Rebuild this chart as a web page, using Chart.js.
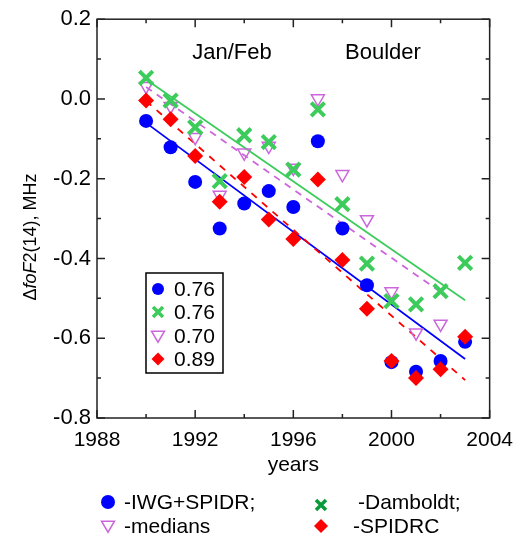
<!DOCTYPE html>
<html>
<head>
<meta charset="utf-8">
<script src="https://cdn.jsdelivr.net/npm/chart.js@4/dist/chart.umd.min.js"></script>
<style>html,body{margin:0;padding:0;background:#fff}</style>
</head>
<body>
<canvas id="c" width="523" height="538"></canvas>
<script>
// ===== data =====
const years = [1990, 1991, 1992, 1993, 1994, 1995, 1996, 1997, 1998, 1999, 2000, 2001, 2002, 2003];
const iwgSpidr = [-0.055, -0.121, -0.208, -0.325, -0.262, -0.231, -0.271, -0.106, -0.325, -0.467, -0.660, -0.684, -0.657, -0.609];
const damboldt = [0.053, -0.004, -0.071, -0.206, -0.091, -0.108, -0.177, -0.026, -0.264, -0.413, -0.507, -0.515, -0.482, -0.411];
const medians  = [0.032, -0.018, -0.096, -0.241, -0.135, -0.118, -0.173, 0.001, -0.189, -0.302, -0.483, -0.586, -0.564, null];
const spidrc   = [-0.004, -0.051, -0.143, -0.258, -0.196, -0.302, -0.351, -0.202, -0.404, -0.526, -0.657, -0.700, -0.678, -0.596];

// linear fits, start/end values
const trendX = [1990, 2003];
const trendIwg = [-0.060, -0.652];
const trendDamboldt = [0.049, -0.505];
const trendMedX = [1990, 2002];
const trendMed = [0.030, -0.484];
const trendSpidrc = [-0.005, -0.705];

const corrLabels = ['0.76', '0.76', '0.70', '0.89'];
const seriesNames = ['-IWG+SPIDR;', '-Damboldt;', '-medians', '-SPIDRC'];

const FONT = '"Liberation Sans", Arial, sans-serif';
const BLUE = '#0000ff', GREEN = '#3dcc5c', DKGREEN = '#0b9a3a', PURPLE = '#cc66dd', RED = '#ff0000';

const pts = (xs, ys) => xs.map((x, i) => ({ x, y: ys[i] })).filter(p => p.y != null);

// small marker painter for the two legends
function marker(ctx, kind, x, y, s, color) {
    ctx.save();
    ctx.fillStyle = color; ctx.strokeStyle = color;
    ctx.beginPath();
    if (kind === 'circle') {
        ctx.arc(x, y, s, 0, Math.PI * 2); ctx.fill();
    } else if (kind === 'cross') {
        ctx.lineWidth = 3.5;
        ctx.moveTo(x - s, y - s); ctx.lineTo(x + s, y + s);
        ctx.moveTo(x + s, y - s); ctx.lineTo(x - s, y + s);
        ctx.stroke();
    } else if (kind === 'tri') {
        ctx.lineWidth = 1.5;
        ctx.moveTo(x - s, y - s * 0.75); ctx.lineTo(x + s, y - s * 0.75); ctx.lineTo(x, y + s * 0.95);
        ctx.closePath(); ctx.stroke();
    } else {
        ctx.moveTo(x, y - s); ctx.lineTo(x + s, y); ctx.lineTo(x, y + s); ctx.lineTo(x - s, y);
        ctx.closePath(); ctx.fill();
    }
    ctx.restore();
}

const frame = {
    id: 'frame',
    beforeDatasetsDraw(chart) {
        const { ctx, chartArea: a, scales: { x, y } } = chart;
        ctx.save();
        ctx.strokeStyle = '#222'; ctx.lineWidth = 1.5;
        ctx.strokeRect(a.left, a.top, a.right - a.left, a.bottom - a.top);
        ctx.beginPath();
        for (let yr = 1988; yr <= 2004; yr += 2) {
            const px = x.getPixelForValue(yr), len = (yr - 1988) % 4 ? 4 : 8;
            ctx.moveTo(px, a.top); ctx.lineTo(px, a.top + len);
            ctx.moveTo(px, a.bottom); ctx.lineTo(px, a.bottom - len);
        }
        for (let i = -8; i <= 2; i++) {
            const py = y.getPixelForValue(i / 10), len = i % 2 ? 4 : 8;
            ctx.moveTo(a.left, py); ctx.lineTo(a.left + len, py);
            ctx.moveTo(a.right, py); ctx.lineTo(a.right - len, py);
        }
        ctx.stroke();
        ctx.restore();
    },
    afterDraw(chart) {
        const { ctx, chartArea: a } = chart;
        ctx.save();
        ctx.fillStyle = '#000';
        ctx.textBaseline = 'middle';

        // annotations
        ctx.font = '22px ' + FONT;
        ctx.textAlign = 'center';
        ctx.fillText('Jan/Feb', 232, 53);
        ctx.fillText('Boulder', 383, 53);

        // x title
        ctx.font = '21px ' + FONT;
        ctx.fillText('years', (a.left + a.right) / 2, 465);

        // y title with italic foF
        ctx.save();
        ctx.translate(31, 237);
        ctx.rotate(-Math.PI / 2);
        const parts = [['\u0394', '18px ' + FONT], ['foF', 'italic 18px ' + FONT], ['2(14), MHz', '18px ' + FONT]];
        let w = 0;
        parts.forEach(p => { ctx.font = p[1]; w += ctx.measureText(p[0]).width; });
        let cx = -w / 2;
        ctx.textAlign = 'left';
        parts.forEach(p => { ctx.font = p[1]; ctx.fillText(p[0], cx, 0); cx += ctx.measureText(p[0]).width; });
        ctx.restore();

        // inset legend with correlation coefficients
        ctx.strokeStyle = '#000'; ctx.lineWidth = 1.5;
        ctx.strokeRect(146, 273, 77, 100);
        const kinds = ['circle', 'cross', 'tri', 'diamond'];
        const cols = [BLUE, GREEN, PURPLE, RED];
        const rowsY = [289, 312, 336, 359];
        ctx.font = '21px ' + FONT;
        ctx.textAlign = 'left';
        corrLabels.forEach((t, i) => {
            marker(ctx, kinds[i], 158, rowsY[i], kinds[i] === 'circle' ? 6 : kinds[i] === 'cross' ? 5 : 6.5, cols[i]);
            ctx.fillText(t, 174, rowsY[i] + 1);
        });

        // bottom legend
        marker(ctx, 'circle', 108, 502, 7, BLUE);
        ctx.fillText(seriesNames[0], 124, 503);
        marker(ctx, 'cross', 321, 505, 5, DKGREEN);
        ctx.fillText(seriesNames[1], 358, 503);
        marker(ctx, 'tri', 108, 526, 6.5, PURPLE);
        ctx.fillText(seriesNames[2], 124, 527);
        marker(ctx, 'diamond', 321, 526, 7, RED);
        ctx.fillText(seriesNames[3], 353, 527);
        ctx.restore();
    }
};

const lineDs = (xs, ys, color, dash) => ({
    type: 'line', data: pts(xs, ys), borderColor: color, borderWidth: 1.8,
    borderDash: dash || [], pointRadius: 0, showLine: true, fill: false
});

new Chart(document.getElementById('c'), {
    type: 'scatter',
    data: {
        datasets: [
            { data: pts(years, spidrc), pointStyle: 'rectRot', pointRadius: 8, backgroundColor: RED, borderColor: RED, borderWidth: 0 },
            { data: pts(years, damboldt), pointStyle: 'crossRot', pointRadius: 9.5, borderColor: GREEN, borderWidth: 4 },
            { data: pts(years, medians), pointStyle: 'triangle', rotation: 180, pointRadius: 7.5, backgroundColor: 'rgba(0,0,0,0)', borderColor: PURPLE, borderWidth: 1.5 },
            { data: pts(years, iwgSpidr), pointStyle: 'circle', pointRadius: 7, backgroundColor: BLUE, borderColor: BLUE, borderWidth: 0 },
            lineDs(trendX, trendSpidrc, RED, [7, 7]),
            lineDs(trendMedX, trendMed, PURPLE, [7, 6]),
            lineDs(trendX, trendDamboldt, GREEN),
            lineDs(trendX, trendIwg, BLUE)
        ]
    },
    options: {
        responsive: false,
        animation: false,
        devicePixelRatio: 1,
        layout: { padding: { left: 0, right: 27, top: 18, bottom: 0 } },
        plugins: { legend: { display: false }, tooltip: { enabled: false } },
        scales: {
            x: {
                type: 'linear', min: 1988, max: 2004,
                grid: { display: false, drawTicks: false }, border: { display: false },
                ticks: { stepSize: 4, padding: 10, color: '#000', font: { family: FONT, size: 21 }, callback: v => String(v) },
                afterFit: s => { s.height = 120; }
            },
            y: {
                min: -0.8, max: 0.2,
                grid: { display: false, drawTicks: false }, border: { display: false },
                ticks: { stepSize: 0.2, padding: 6, color: '#000', font: { family: FONT, size: 22 },
                    callback: v => (Math.abs(v) < 1e-9 ? 0 : v).toFixed(1) },
                afterFit: s => { s.width = 97; }
            }
        }
    },
    plugins: [frame]
});
</script>
</body>
</html>
